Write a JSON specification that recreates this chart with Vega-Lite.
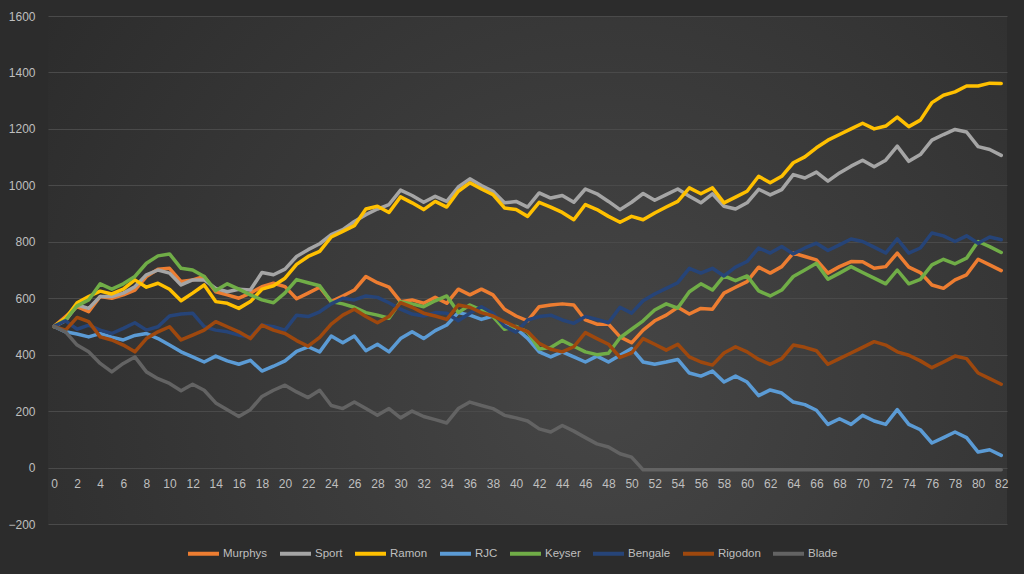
{
"$schema":"https://vega.github.io/schema/vega-lite/v6.json",
"width":959,"height":508,
"autosize":{"type":"none"},
"padding":{"left":48,"top":16,"right":17,"bottom":50},
"background":"#2c2c2c",
"config":{
"view":{"stroke":null,"fill":{"gradient":"radial","x1":0.58,"y1":0.62,"r1":0,"x2":0.58,"y2":0.62,"r2":0.78,"stops":[{"offset":0,"color":"#464646"},{"offset":1,"color":"#292929"}]}},
"font":"Liberation Sans",
"axis":{"labelColor":"#bfbfbf","labelFontSize":12,"domain":false,"ticks":false,"labelFont":"Liberation Sans"}
},
"datasets":{"d":[
{"s":"Murphys","x":0,"v":500},{"s":"Murphys","x":1,"v":535},{"s":"Murphys","x":2,"v":570},{"s":"Murphys","x":3,"v":552},{"s":"Murphys","x":4,"v":606},{"s":"Murphys","x":5,"v":600},{"s":"Murphys","x":6,"v":612},{"s":"Murphys","x":7,"v":629},{"s":"Murphys","x":8,"v":677},{"s":"Murphys","x":9,"v":703},
{"s":"Murphys","x":10,"v":706},{"s":"Murphys","x":11,"v":659},{"s":"Murphys","x":12,"v":665},{"s":"Murphys","x":13,"v":677},{"s":"Murphys","x":14,"v":623},{"s":"Murphys","x":15,"v":612},{"s":"Murphys","x":16,"v":600},{"s":"Murphys","x":17,"v":618},{"s":"Murphys","x":18,"v":641},{"s":"Murphys","x":19,"v":653},
{"s":"Murphys","x":20,"v":641},{"s":"Murphys","x":21,"v":598},{"s":"Murphys","x":22,"v":618},{"s":"Murphys","x":23,"v":639},{"s":"Murphys","x":24,"v":588},{"s":"Murphys","x":25,"v":608},{"s":"Murphys","x":26,"v":629},{"s":"Murphys","x":27,"v":677},{"s":"Murphys","x":28,"v":655},{"s":"Murphys","x":29,"v":639},
{"s":"Murphys","x":30,"v":588},{"s":"Murphys","x":31,"v":594},{"s":"Murphys","x":32,"v":582},{"s":"Murphys","x":33,"v":603},{"s":"Murphys","x":34,"v":582},{"s":"Murphys","x":35,"v":632},{"s":"Murphys","x":36,"v":612},{"s":"Murphys","x":37,"v":632},{"s":"Murphys","x":38,"v":612},{"s":"Murphys","x":39,"v":561},
{"s":"Murphys","x":40,"v":537},{"s":"Murphys","x":41,"v":520},{"s":"Murphys","x":42,"v":570},{"s":"Murphys","x":43,"v":576},{"s":"Murphys","x":44,"v":580},{"s":"Murphys","x":45,"v":576},{"s":"Murphys","x":46,"v":523},{"s":"Murphys","x":47,"v":508},{"s":"Murphys","x":48,"v":508},{"s":"Murphys","x":49,"v":463},
{"s":"Murphys","x":50,"v":442},{"s":"Murphys","x":51,"v":487},{"s":"Murphys","x":52,"v":520},{"s":"Murphys","x":53,"v":540},{"s":"Murphys","x":54,"v":568},{"s":"Murphys","x":55,"v":544},{"s":"Murphys","x":56,"v":564},{"s":"Murphys","x":57,"v":561},{"s":"Murphys","x":58,"v":618},{"s":"Murphys","x":59,"v":639},
{"s":"Murphys","x":60,"v":659},{"s":"Murphys","x":61,"v":710},{"s":"Murphys","x":62,"v":689},{"s":"Murphys","x":63,"v":712},{"s":"Murphys","x":64,"v":760},{"s":"Murphys","x":65,"v":748},{"s":"Murphys","x":66,"v":736},{"s":"Murphys","x":67,"v":689},{"s":"Murphys","x":68,"v":712},{"s":"Murphys","x":69,"v":730},
{"s":"Murphys","x":70,"v":729},{"s":"Murphys","x":71,"v":706},{"s":"Murphys","x":72,"v":712},{"s":"Murphys","x":73,"v":760},{"s":"Murphys","x":74,"v":710},{"s":"Murphys","x":75,"v":691},{"s":"Murphys","x":76,"v":647},{"s":"Murphys","x":77,"v":635},{"s":"Murphys","x":78,"v":665},{"s":"Murphys","x":79,"v":683},
{"s":"Murphys","x":80,"v":738},{"s":"Murphys","x":81,"v":718},{"s":"Murphys","x":82,"v":698},
{"s":"Sport","x":0,"v":500},{"s":"Sport","x":1,"v":520},{"s":"Sport","x":2,"v":576},{"s":"Sport","x":3,"v":564},{"s":"Sport","x":4,"v":606},{"s":"Sport","x":5,"v":606},{"s":"Sport","x":6,"v":618},{"s":"Sport","x":7,"v":641},{"s":"Sport","x":8,"v":683},{"s":"Sport","x":9,"v":700},
{"s":"Sport","x":10,"v":689},{"s":"Sport","x":11,"v":647},{"s":"Sport","x":12,"v":665},{"s":"Sport","x":13,"v":665},{"s":"Sport","x":14,"v":635},{"s":"Sport","x":15,"v":623},{"s":"Sport","x":16,"v":632},{"s":"Sport","x":17,"v":629},{"s":"Sport","x":18,"v":691},{"s":"Sport","x":19,"v":683},
{"s":"Sport","x":20,"v":703},{"s":"Sport","x":21,"v":748},{"s":"Sport","x":22,"v":772},{"s":"Sport","x":23,"v":793},{"s":"Sport","x":24,"v":825},{"s":"Sport","x":25,"v":843},{"s":"Sport","x":26,"v":872},{"s":"Sport","x":27,"v":896},{"s":"Sport","x":28,"v":916},{"s":"Sport","x":29,"v":932},
{"s":"Sport","x":30,"v":983},{"s":"Sport","x":31,"v":964},{"s":"Sport","x":32,"v":940},{"s":"Sport","x":33,"v":961},{"s":"Sport","x":34,"v":943},{"s":"Sport","x":35,"v":994},{"s":"Sport","x":36,"v":1023},{"s":"Sport","x":37,"v":999},{"s":"Sport","x":38,"v":979},{"s":"Sport","x":39,"v":938},
{"s":"Sport","x":40,"v":943},{"s":"Sport","x":41,"v":923},{"s":"Sport","x":42,"v":973},{"s":"Sport","x":43,"v":955},{"s":"Sport","x":44,"v":964},{"s":"Sport","x":45,"v":940},{"s":"Sport","x":46,"v":987},{"s":"Sport","x":47,"v":970},{"s":"Sport","x":48,"v":943},{"s":"Sport","x":49,"v":914},
{"s":"Sport","x":50,"v":940},{"s":"Sport","x":51,"v":971},{"s":"Sport","x":52,"v":947},{"s":"Sport","x":53,"v":967},{"s":"Sport","x":54,"v":987},{"s":"Sport","x":55,"v":961},{"s":"Sport","x":56,"v":938},{"s":"Sport","x":57,"v":970},{"s":"Sport","x":58,"v":926},{"s":"Sport","x":59,"v":916},
{"s":"Sport","x":60,"v":938},{"s":"Sport","x":61,"v":986},{"s":"Sport","x":62,"v":966},{"s":"Sport","x":63,"v":985},{"s":"Sport","x":64,"v":1038},{"s":"Sport","x":65,"v":1026},{"s":"Sport","x":66,"v":1047},{"s":"Sport","x":67,"v":1015},{"s":"Sport","x":68,"v":1044},{"s":"Sport","x":69,"v":1068},
{"s":"Sport","x":70,"v":1089},{"s":"Sport","x":71,"v":1066},{"s":"Sport","x":72,"v":1089},{"s":"Sport","x":73,"v":1139},{"s":"Sport","x":74,"v":1085},{"s":"Sport","x":75,"v":1109},{"s":"Sport","x":76,"v":1160},{"s":"Sport","x":77,"v":1180},{"s":"Sport","x":78,"v":1198},{"s":"Sport","x":79,"v":1189},
{"s":"Sport","x":80,"v":1137},{"s":"Sport","x":81,"v":1127},{"s":"Sport","x":82,"v":1106},
{"s":"Ramon","x":0,"v":500},{"s":"Ramon","x":1,"v":529},{"s":"Ramon","x":2,"v":584},{"s":"Ramon","x":3,"v":606},{"s":"Ramon","x":4,"v":625},{"s":"Ramon","x":5,"v":615},{"s":"Ramon","x":6,"v":632},{"s":"Ramon","x":7,"v":665},{"s":"Ramon","x":8,"v":639},{"s":"Ramon","x":9,"v":653},
{"s":"Ramon","x":10,"v":632},{"s":"Ramon","x":11,"v":591},{"s":"Ramon","x":12,"v":618},{"s":"Ramon","x":13,"v":647},{"s":"Ramon","x":14,"v":588},{"s":"Ramon","x":15,"v":582},{"s":"Ramon","x":16,"v":564},{"s":"Ramon","x":17,"v":588},{"s":"Ramon","x":18,"v":632},{"s":"Ramon","x":19,"v":644},
{"s":"Ramon","x":20,"v":671},{"s":"Ramon","x":21,"v":720},{"s":"Ramon","x":22,"v":748},{"s":"Ramon","x":23,"v":766},{"s":"Ramon","x":24,"v":817},{"s":"Ramon","x":25,"v":837},{"s":"Ramon","x":26,"v":857},{"s":"Ramon","x":27,"v":916},{"s":"Ramon","x":28,"v":926},{"s":"Ramon","x":29,"v":904},
{"s":"Ramon","x":30,"v":959},{"s":"Ramon","x":31,"v":938},{"s":"Ramon","x":32,"v":914},{"s":"Ramon","x":33,"v":943},{"s":"Ramon","x":34,"v":923},{"s":"Ramon","x":35,"v":979},{"s":"Ramon","x":36,"v":1009},{"s":"Ramon","x":37,"v":987},{"s":"Ramon","x":38,"v":967},{"s":"Ramon","x":39,"v":920},
{"s":"Ramon","x":40,"v":914},{"s":"Ramon","x":41,"v":890},{"s":"Ramon","x":42,"v":940},{"s":"Ramon","x":43,"v":923},{"s":"Ramon","x":44,"v":904},{"s":"Ramon","x":45,"v":878},{"s":"Ramon","x":46,"v":932},{"s":"Ramon","x":47,"v":914},{"s":"Ramon","x":48,"v":890},{"s":"Ramon","x":49,"v":869},
{"s":"Ramon","x":50,"v":890},{"s":"Ramon","x":51,"v":878},{"s":"Ramon","x":52,"v":902},{"s":"Ramon","x":53,"v":923},{"s":"Ramon","x":54,"v":943},{"s":"Ramon","x":55,"v":991},{"s":"Ramon","x":56,"v":970},{"s":"Ramon","x":57,"v":991},{"s":"Ramon","x":58,"v":938},{"s":"Ramon","x":59,"v":958},
{"s":"Ramon","x":60,"v":979},{"s":"Ramon","x":61,"v":1032},{"s":"Ramon","x":62,"v":1009},{"s":"Ramon","x":63,"v":1032},{"s":"Ramon","x":64,"v":1080},{"s":"Ramon","x":65,"v":1101},{"s":"Ramon","x":66,"v":1133},{"s":"Ramon","x":67,"v":1160},{"s":"Ramon","x":68,"v":1180},{"s":"Ramon","x":69,"v":1200},
{"s":"Ramon","x":70,"v":1220},{"s":"Ramon","x":71,"v":1200},{"s":"Ramon","x":72,"v":1210},{"s":"Ramon","x":73,"v":1242},{"s":"Ramon","x":74,"v":1208},{"s":"Ramon","x":75,"v":1231},{"s":"Ramon","x":76,"v":1293},{"s":"Ramon","x":77,"v":1319},{"s":"Ramon","x":78,"v":1331},{"s":"Ramon","x":79,"v":1352},
{"s":"Ramon","x":80,"v":1352},{"s":"Ramon","x":81,"v":1362},{"s":"Ramon","x":82,"v":1361},
{"s":"RJC","x":0,"v":500},{"s":"RJC","x":1,"v":481},{"s":"RJC","x":2,"v":473},{"s":"RJC","x":3,"v":463},{"s":"RJC","x":4,"v":475},{"s":"RJC","x":5,"v":462},{"s":"RJC","x":6,"v":452},{"s":"RJC","x":7,"v":468},{"s":"RJC","x":8,"v":475},{"s":"RJC","x":9,"v":457},
{"s":"RJC","x":10,"v":434},{"s":"RJC","x":11,"v":410},{"s":"RJC","x":12,"v":392},{"s":"RJC","x":13,"v":374},{"s":"RJC","x":14,"v":395},{"s":"RJC","x":15,"v":378},{"s":"RJC","x":16,"v":366},{"s":"RJC","x":17,"v":380},{"s":"RJC","x":18,"v":342},{"s":"RJC","x":19,"v":359},
{"s":"RJC","x":20,"v":378},{"s":"RJC","x":21,"v":412},{"s":"RJC","x":22,"v":428},{"s":"RJC","x":23,"v":410},{"s":"RJC","x":24,"v":466},{"s":"RJC","x":25,"v":442},{"s":"RJC","x":26,"v":466},{"s":"RJC","x":27,"v":414},{"s":"RJC","x":28,"v":437},{"s":"RJC","x":29,"v":410},
{"s":"RJC","x":30,"v":457},{"s":"RJC","x":31,"v":481},{"s":"RJC","x":32,"v":457},{"s":"RJC","x":33,"v":485},{"s":"RJC","x":34,"v":505},{"s":"RJC","x":35,"v":549},{"s":"RJC","x":36,"v":540},{"s":"RJC","x":37,"v":525},{"s":"RJC","x":38,"v":537},{"s":"RJC","x":39,"v":508},
{"s":"RJC","x":40,"v":493},{"s":"RJC","x":41,"v":458},{"s":"RJC","x":42,"v":410},{"s":"RJC","x":43,"v":392},{"s":"RJC","x":44,"v":410},{"s":"RJC","x":45,"v":392},{"s":"RJC","x":46,"v":374},{"s":"RJC","x":47,"v":395},{"s":"RJC","x":48,"v":374},{"s":"RJC","x":49,"v":398},
{"s":"RJC","x":50,"v":422},{"s":"RJC","x":51,"v":374},{"s":"RJC","x":52,"v":366},{"s":"RJC","x":53,"v":374},{"s":"RJC","x":54,"v":383},{"s":"RJC","x":55,"v":335},{"s":"RJC","x":56,"v":324},{"s":"RJC","x":57,"v":342},{"s":"RJC","x":58,"v":303},{"s":"RJC","x":59,"v":324},
{"s":"RJC","x":60,"v":303},{"s":"RJC","x":61,"v":255},{"s":"RJC","x":62,"v":275},{"s":"RJC","x":63,"v":264},{"s":"RJC","x":64,"v":232},{"s":"RJC","x":65,"v":223},{"s":"RJC","x":66,"v":203},{"s":"RJC","x":67,"v":153},{"s":"RJC","x":68,"v":173},{"s":"RJC","x":69,"v":153},
{"s":"RJC","x":70,"v":185},{"s":"RJC","x":71,"v":165},{"s":"RJC","x":72,"v":153},{"s":"RJC","x":73,"v":205},{"s":"RJC","x":74,"v":153},{"s":"RJC","x":75,"v":134},{"s":"RJC","x":76,"v":87},{"s":"RJC","x":77,"v":106},{"s":"RJC","x":78,"v":126},{"s":"RJC","x":79,"v":106},
{"s":"RJC","x":80,"v":55},{"s":"RJC","x":81,"v":63},{"s":"RJC","x":82,"v":43},
{"s":"Keyser","x":0,"v":500},{"s":"Keyser","x":1,"v":523},{"s":"Keyser","x":2,"v":573},{"s":"Keyser","x":3,"v":594},{"s":"Keyser","x":4,"v":651},{"s":"Keyser","x":5,"v":632},{"s":"Keyser","x":6,"v":651},{"s":"Keyser","x":7,"v":677},{"s":"Keyser","x":8,"v":724},{"s":"Keyser","x":9,"v":750},
{"s":"Keyser","x":10,"v":757},{"s":"Keyser","x":11,"v":706},{"s":"Keyser","x":12,"v":700},{"s":"Keyser","x":13,"v":677},{"s":"Keyser","x":14,"v":627},{"s":"Keyser","x":15,"v":651},{"s":"Keyser","x":16,"v":632},{"s":"Keyser","x":17,"v":612},{"s":"Keyser","x":18,"v":594},{"s":"Keyser","x":19,"v":584},
{"s":"Keyser","x":20,"v":619},{"s":"Keyser","x":21,"v":666},{"s":"Keyser","x":22,"v":655},{"s":"Keyser","x":23,"v":644},{"s":"Keyser","x":24,"v":588},{"s":"Keyser","x":25,"v":580},{"s":"Keyser","x":26,"v":568},{"s":"Keyser","x":27,"v":549},{"s":"Keyser","x":28,"v":540},{"s":"Keyser","x":29,"v":529},
{"s":"Keyser","x":30,"v":588},{"s":"Keyser","x":31,"v":580},{"s":"Keyser","x":32,"v":570},{"s":"Keyser","x":33,"v":591},{"s":"Keyser","x":34,"v":608},{"s":"Keyser","x":35,"v":549},{"s":"Keyser","x":36,"v":576},{"s":"Keyser","x":37,"v":558},{"s":"Keyser","x":38,"v":535},{"s":"Keyser","x":39,"v":490},
{"s":"Keyser","x":40,"v":500},{"s":"Keyser","x":41,"v":480},{"s":"Keyser","x":42,"v":420},{"s":"Keyser","x":43,"v":425},{"s":"Keyser","x":44,"v":450},{"s":"Keyser","x":45,"v":430},{"s":"Keyser","x":46,"v":410},{"s":"Keyser","x":47,"v":400},{"s":"Keyser","x":48,"v":405},{"s":"Keyser","x":49,"v":460},
{"s":"Keyser","x":50,"v":490},{"s":"Keyser","x":51,"v":520},{"s":"Keyser","x":52,"v":558},{"s":"Keyser","x":53,"v":580},{"s":"Keyser","x":54,"v":565},{"s":"Keyser","x":55,"v":623},{"s":"Keyser","x":56,"v":651},{"s":"Keyser","x":57,"v":629},{"s":"Keyser","x":58,"v":679},{"s":"Keyser","x":59,"v":662},
{"s":"Keyser","x":60,"v":679},{"s":"Keyser","x":61,"v":626},{"s":"Keyser","x":62,"v":608},{"s":"Keyser","x":63,"v":629},{"s":"Keyser","x":64,"v":677},{"s":"Keyser","x":65,"v":700},{"s":"Keyser","x":66,"v":724},{"s":"Keyser","x":67,"v":667},{"s":"Keyser","x":68,"v":689},{"s":"Keyser","x":69,"v":712},
{"s":"Keyser","x":70,"v":691},{"s":"Keyser","x":71,"v":671},{"s":"Keyser","x":72,"v":651},{"s":"Keyser","x":73,"v":700},{"s":"Keyser","x":74,"v":651},{"s":"Keyser","x":75,"v":667},{"s":"Keyser","x":76,"v":718},{"s":"Keyser","x":77,"v":738},{"s":"Keyser","x":78,"v":722},{"s":"Keyser","x":79,"v":742},
{"s":"Keyser","x":80,"v":801},{"s":"Keyser","x":81,"v":783},{"s":"Keyser","x":82,"v":762},
{"s":"Bengale","x":0,"v":500},{"s":"Bengale","x":1,"v":520},{"s":"Bengale","x":2,"v":490},{"s":"Bengale","x":3,"v":505},{"s":"Bengale","x":4,"v":487},{"s":"Bengale","x":5,"v":475},{"s":"Bengale","x":6,"v":493},{"s":"Bengale","x":7,"v":513},{"s":"Bengale","x":8,"v":487},{"s":"Bengale","x":9,"v":499},
{"s":"Bengale","x":10,"v":537},{"s":"Bengale","x":11,"v":544},{"s":"Bengale","x":12,"v":547},{"s":"Bengale","x":13,"v":499},{"s":"Bengale","x":14,"v":487},{"s":"Bengale","x":15,"v":481},{"s":"Bengale","x":16,"v":469},{"s":"Bengale","x":17,"v":463},{"s":"Bengale","x":18,"v":505},{"s":"Bengale","x":19,"v":499},
{"s":"Bengale","x":20,"v":487},{"s":"Bengale","x":21,"v":540},{"s":"Bengale","x":22,"v":535},{"s":"Bengale","x":23,"v":552},{"s":"Bengale","x":24,"v":580},{"s":"Bengale","x":25,"v":600},{"s":"Bengale","x":26,"v":594},{"s":"Bengale","x":27,"v":608},{"s":"Bengale","x":28,"v":603},{"s":"Bengale","x":29,"v":584},
{"s":"Bengale","x":30,"v":561},{"s":"Bengale","x":31,"v":544},{"s":"Bengale","x":32,"v":537},{"s":"Bengale","x":33,"v":549},{"s":"Bengale","x":34,"v":547},{"s":"Bengale","x":35,"v":520},{"s":"Bengale","x":36,"v":547},{"s":"Bengale","x":37,"v":570},{"s":"Bengale","x":38,"v":547},{"s":"Bengale","x":39,"v":501},
{"s":"Bengale","x":40,"v":480},{"s":"Bengale","x":41,"v":523},{"s":"Bengale","x":42,"v":535},{"s":"Bengale","x":43,"v":540},{"s":"Bengale","x":44,"v":523},{"s":"Bengale","x":45,"v":511},{"s":"Bengale","x":46,"v":535},{"s":"Bengale","x":47,"v":525},{"s":"Bengale","x":48,"v":513},{"s":"Bengale","x":49,"v":568},
{"s":"Bengale","x":50,"v":547},{"s":"Bengale","x":51,"v":591},{"s":"Bengale","x":52,"v":615},{"s":"Bengale","x":53,"v":635},{"s":"Bengale","x":54,"v":655},{"s":"Bengale","x":55,"v":706},{"s":"Bengale","x":56,"v":689},{"s":"Bengale","x":57,"v":706},{"s":"Bengale","x":58,"v":679},{"s":"Bengale","x":59,"v":710},
{"s":"Bengale","x":60,"v":730},{"s":"Bengale","x":61,"v":778},{"s":"Bengale","x":62,"v":760},{"s":"Bengale","x":63,"v":783},{"s":"Bengale","x":64,"v":757},{"s":"Bengale","x":65,"v":778},{"s":"Bengale","x":66,"v":795},{"s":"Bengale","x":67,"v":769},{"s":"Bengale","x":68,"v":789},{"s":"Bengale","x":69,"v":810},
{"s":"Bengale","x":70,"v":801},{"s":"Bengale","x":71,"v":781},{"s":"Bengale","x":72,"v":760},{"s":"Bengale","x":73,"v":810},{"s":"Bengale","x":74,"v":760},{"s":"Bengale","x":75,"v":778},{"s":"Bengale","x":76,"v":831},{"s":"Bengale","x":77,"v":821},{"s":"Bengale","x":78,"v":801},{"s":"Bengale","x":79,"v":821},
{"s":"Bengale","x":80,"v":795},{"s":"Bengale","x":81,"v":817},{"s":"Bengale","x":82,"v":807},
{"s":"Rigodon","x":0,"v":500},{"s":"Rigodon","x":1,"v":487},{"s":"Rigodon","x":2,"v":532},{"s":"Rigodon","x":3,"v":517},{"s":"Rigodon","x":4,"v":463},{"s":"Rigodon","x":5,"v":452},{"s":"Rigodon","x":6,"v":434},{"s":"Rigodon","x":7,"v":410},{"s":"Rigodon","x":8,"v":457},{"s":"Rigodon","x":9,"v":481},
{"s":"Rigodon","x":10,"v":499},{"s":"Rigodon","x":11,"v":452},{"s":"Rigodon","x":12,"v":469},{"s":"Rigodon","x":13,"v":487},{"s":"Rigodon","x":14,"v":517},{"s":"Rigodon","x":15,"v":499},{"s":"Rigodon","x":16,"v":481},{"s":"Rigodon","x":17,"v":457},{"s":"Rigodon","x":18,"v":505},{"s":"Rigodon","x":19,"v":487},
{"s":"Rigodon","x":20,"v":475},{"s":"Rigodon","x":21,"v":450},{"s":"Rigodon","x":22,"v":430},{"s":"Rigodon","x":23,"v":461},{"s":"Rigodon","x":24,"v":508},{"s":"Rigodon","x":25,"v":540},{"s":"Rigodon","x":26,"v":561},{"s":"Rigodon","x":27,"v":535},{"s":"Rigodon","x":28,"v":513},{"s":"Rigodon","x":29,"v":535},
{"s":"Rigodon","x":30,"v":584},{"s":"Rigodon","x":31,"v":568},{"s":"Rigodon","x":32,"v":547},{"s":"Rigodon","x":33,"v":537},{"s":"Rigodon","x":34,"v":525},{"s":"Rigodon","x":35,"v":576},{"s":"Rigodon","x":36,"v":568},{"s":"Rigodon","x":37,"v":549},{"s":"Rigodon","x":38,"v":537},{"s":"Rigodon","x":39,"v":517},
{"s":"Rigodon","x":40,"v":498},{"s":"Rigodon","x":41,"v":482},{"s":"Rigodon","x":42,"v":440},{"s":"Rigodon","x":43,"v":419},{"s":"Rigodon","x":44,"v":410},{"s":"Rigodon","x":45,"v":428},{"s":"Rigodon","x":46,"v":478},{"s":"Rigodon","x":47,"v":457},{"s":"Rigodon","x":48,"v":437},{"s":"Rigodon","x":49,"v":390},
{"s":"Rigodon","x":50,"v":406},{"s":"Rigodon","x":51,"v":457},{"s":"Rigodon","x":52,"v":437},{"s":"Rigodon","x":53,"v":416},{"s":"Rigodon","x":54,"v":437},{"s":"Rigodon","x":55,"v":392},{"s":"Rigodon","x":56,"v":374},{"s":"Rigodon","x":57,"v":363},{"s":"Rigodon","x":58,"v":406},{"s":"Rigodon","x":59,"v":428},
{"s":"Rigodon","x":60,"v":410},{"s":"Rigodon","x":61,"v":383},{"s":"Rigodon","x":62,"v":366},{"s":"Rigodon","x":63,"v":386},{"s":"Rigodon","x":64,"v":434},{"s":"Rigodon","x":65,"v":426},{"s":"Rigodon","x":66,"v":414},{"s":"Rigodon","x":67,"v":366},{"s":"Rigodon","x":68,"v":386},{"s":"Rigodon","x":69,"v":406},
{"s":"Rigodon","x":70,"v":426},{"s":"Rigodon","x":71,"v":446},{"s":"Rigodon","x":72,"v":434},{"s":"Rigodon","x":73,"v":410},{"s":"Rigodon","x":74,"v":398},{"s":"Rigodon","x":75,"v":378},{"s":"Rigodon","x":76,"v":354},{"s":"Rigodon","x":77,"v":374},{"s":"Rigodon","x":78,"v":395},{"s":"Rigodon","x":79,"v":386},
{"s":"Rigodon","x":80,"v":335},{"s":"Rigodon","x":81,"v":315},{"s":"Rigodon","x":82,"v":295},
{"s":"Blade","x":0,"v":500},{"s":"Blade","x":1,"v":481},{"s":"Blade","x":2,"v":434},{"s":"Blade","x":3,"v":410},{"s":"Blade","x":4,"v":369},{"s":"Blade","x":5,"v":339},{"s":"Blade","x":6,"v":369},{"s":"Blade","x":7,"v":392},{"s":"Blade","x":8,"v":339},{"s":"Blade","x":9,"v":315},
{"s":"Blade","x":10,"v":298},{"s":"Blade","x":11,"v":272},{"s":"Blade","x":12,"v":295},{"s":"Blade","x":13,"v":274},{"s":"Blade","x":14,"v":229},{"s":"Blade","x":15,"v":205},{"s":"Blade","x":16,"v":181},{"s":"Blade","x":17,"v":205},{"s":"Blade","x":18,"v":252},{"s":"Blade","x":19,"v":274},
{"s":"Blade","x":20,"v":292},{"s":"Blade","x":21,"v":268},{"s":"Blade","x":22,"v":248},{"s":"Blade","x":23,"v":274},{"s":"Blade","x":24,"v":220},{"s":"Blade","x":25,"v":209},{"s":"Blade","x":26,"v":232},{"s":"Blade","x":27,"v":209},{"s":"Blade","x":28,"v":185},{"s":"Blade","x":29,"v":209},
{"s":"Blade","x":30,"v":176},{"s":"Blade","x":31,"v":200},{"s":"Blade","x":32,"v":181},{"s":"Blade","x":33,"v":170},{"s":"Blade","x":34,"v":158},{"s":"Blade","x":35,"v":209},{"s":"Blade","x":36,"v":232},{"s":"Blade","x":37,"v":220},{"s":"Blade","x":38,"v":209},{"s":"Blade","x":39,"v":185},
{"s":"Blade","x":40,"v":176},{"s":"Blade","x":41,"v":165},{"s":"Blade","x":42,"v":137},{"s":"Blade","x":43,"v":126},{"s":"Blade","x":44,"v":149},{"s":"Blade","x":45,"v":129},{"s":"Blade","x":46,"v":106},{"s":"Blade","x":47,"v":84},{"s":"Blade","x":48,"v":73},{"s":"Blade","x":49,"v":49},
{"s":"Blade","x":50,"v":37},{"s":"Blade","x":51,"v":-8},{"s":"Blade","x":52,"v":-8},{"s":"Blade","x":53,"v":-8},{"s":"Blade","x":54,"v":-8},{"s":"Blade","x":55,"v":-8},{"s":"Blade","x":56,"v":-8},{"s":"Blade","x":57,"v":-8},{"s":"Blade","x":58,"v":-8},{"s":"Blade","x":59,"v":-8},
{"s":"Blade","x":60,"v":-8},{"s":"Blade","x":61,"v":-8},{"s":"Blade","x":62,"v":-8},{"s":"Blade","x":63,"v":-8},{"s":"Blade","x":64,"v":-8},{"s":"Blade","x":65,"v":-8},{"s":"Blade","x":66,"v":-8},{"s":"Blade","x":67,"v":-8},{"s":"Blade","x":68,"v":-8},{"s":"Blade","x":69,"v":-8},
{"s":"Blade","x":70,"v":-8},{"s":"Blade","x":71,"v":-8},{"s":"Blade","x":72,"v":-8},{"s":"Blade","x":73,"v":-8},{"s":"Blade","x":74,"v":-8},{"s":"Blade","x":75,"v":-8},{"s":"Blade","x":76,"v":-8},{"s":"Blade","x":77,"v":-8},{"s":"Blade","x":78,"v":-8},{"s":"Blade","x":79,"v":-8},
{"s":"Blade","x":80,"v":-8},{"s":"Blade","x":81,"v":-8},{"s":"Blade","x":82,"v":-8}
]},
"data":{"name":"d"},
"mark":{"type":"line","strokeWidth":3.5,"strokeJoin":"round","strokeCap":"round"},
"encoding":{
"x":{"field":"x","type":"quantitative","scale":{"domain":[-0.52,82.5],"nice":false,"zero":false},
"axis":{"title":null,"values":[0,2,4,6,8,10,12,14,16,18,20,22,24,26,28,30,32,34,36,38,40,42,44,46,48,50,52,54,56,58,60,62,64,66,68,70,72,74,76,78,80,82],"grid":false,"offset":-56.4,"labelPadding":11,"labelFlush":false,"labelOverlap":false}},
"y":{"field":"v","type":"quantitative","scale":{"domain":[-200,1600],"nice":false,"zero":false},
"axis":{"title":null,"format":"d","values":[-200,0,200,400,600,800,1000,1200,1400,1600],"grid":true,"gridColor":"#4a4a4a","gridWidth":1,"labelPadding":13}},
"color":{"field":"s","type":"nominal","sort":["Murphys","Sport","Ramon","RJC","Keyser","Bengale","Rigodon","Blade"],
"scale":{"domain":["Murphys","Sport","Ramon","RJC","Keyser","Bengale","Rigodon","Blade"],"range":["#ED7D31","#A5A5A5","#FFC000","#5B9BD5","#70AD47","#264478","#9E480E","#636363"]},
"legend":{"title":null,"orient":"none","legendX":138,"legendY":520,"direction":"horizontal","columns":8,"symbolType":"stroke","symbolSize":961,"symbolStrokeWidth":4,"labelColor":"#bfbfbf","labelFontSize":11.5,"labelOffset":2,"columnPadding":4,"padding":0}}
}
}
